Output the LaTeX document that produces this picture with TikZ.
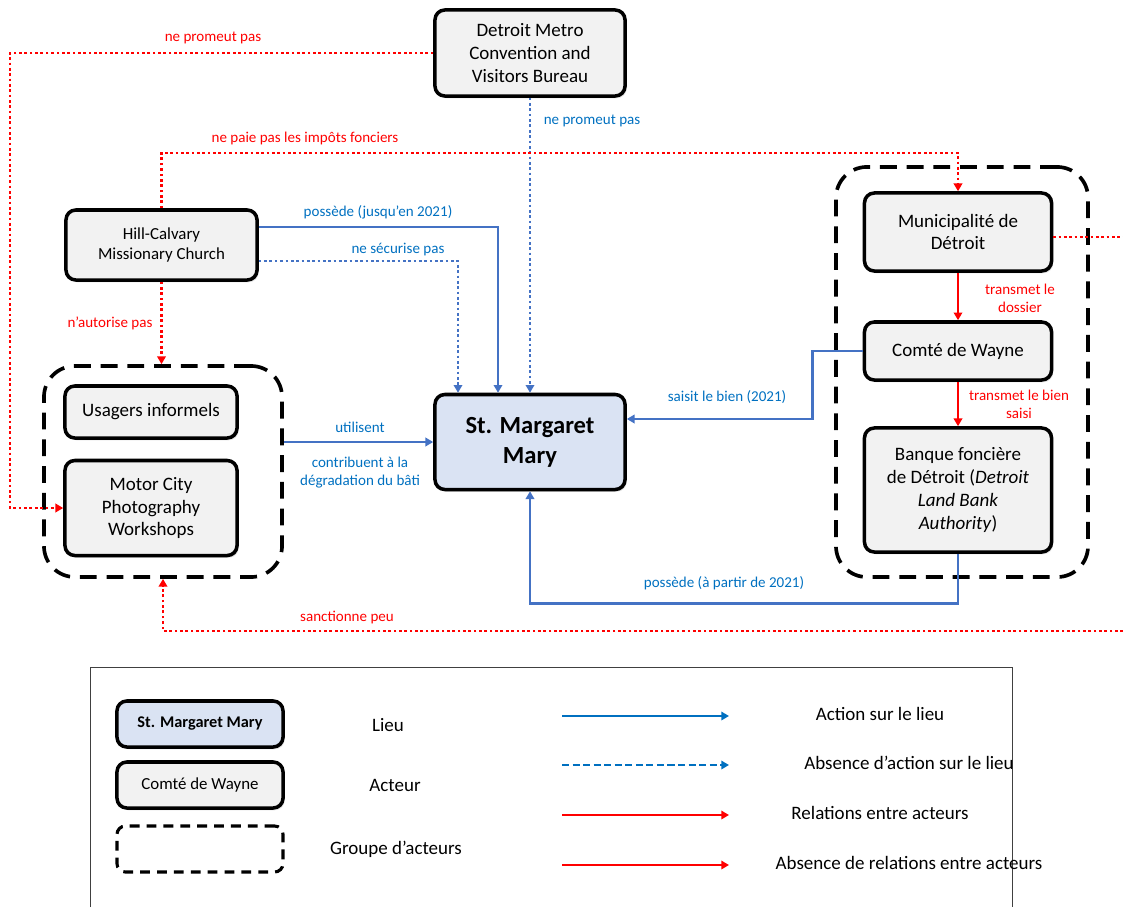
\documentclass[tikz,border=0pt]{standalone}
\usepackage{fontspec}
\setmainfont{Carlito}
\usetikzlibrary{arrows.meta, calc, shadows}
\definecolor{lineB}{RGB}{68,114,196}
\definecolor{textB}{RGB}{0,112,192}
\definecolor{lineR}{RGB}{255,0,0}
\definecolor{boxG}{RGB}{242,242,242}
\definecolor{boxB}{RGB}{218,227,243}
\tikzset{
  actor/.style={draw, line width=2.5pt, rounded corners=7pt, fill=boxG, align=center,
    font=\fontsize{13.5}{16.3}\selectfont,
    drop shadow={shadow xshift=1.2pt, shadow yshift=-1.6pt, opacity=0.22}},
  place/.style={actor, fill=boxB, font=\fontsize{17.5}{21.3}\selectfont\bfseries},
  group/.style={draw, line width=2.6pt, dash pattern=on 12pt off 7pt, rounded corners=22pt},
  tip/.style={-{Triangle[length=5.5pt,width=6pt]}},
  actB/.style={lineB, line width=1.9pt, tip},
  noactB/.style={lineB, line width=1.9pt, dash pattern=on 1.9pt off 1.9pt, tip},
  relR/.style={lineR, line width=1.9pt, tip},
  norelR/.style={lineR, line width=1.9pt, dash pattern=on 1.9pt off 1.9pt, tip},
  lblB/.style={text=textB, font=\fontsize{10.7}{12.8}\selectfont, align=center, inner sep=1pt},
  lblR/.style={lblB, text=lineR},
  legtxt/.style={font=\fontsize{13.5}{15}\selectfont}
}

\begin{document}
\begin{tikzpicture}[x=0.025cm, y=-0.025cm]
\useasboundingbox (0,0) rectangle (1123,907);
% groups of actors
\node[group, minimum width=5.95cm, minimum height=5.275cm] (grpL) at (163,471.5) {};
\node[group, minimum width=6.3cm, minimum height=10.25cm] (grpR) at (962,372) {};
% actors and place
\node[actor, minimum width=4.75cm, minimum height=2.15cm] (detroit) at (530,53) {Detroit Metro\\Convention and\\Visitors Bureau};
\node[actor, minimum width=4.775cm, minimum height=1.75cm, font=\fontsize{12}{14.9}\selectfont] (hill) at (161.5,245) {Hill-Calvary\\Missionary Church};
\node[actor, minimum width=4.3cm, minimum height=1.3cm] (usagers) at (151,412) {Usagers informels};
\node[actor, minimum width=4.3cm, minimum height=2.375cm] (motor) at (151,508) {Motor City\\Photography\\Workshops};
\node[place, minimum width=4.75cm, minimum height=2.375cm] (smm) at (530,442) {St. Margaret\\Mary};
\node[actor, minimum width=4.675cm, minimum height=1.95cm] (muni) at (958,232) {Municipalité de\\Détroit};
\node[actor, minimum width=4.675cm, minimum height=1.45cm] (comte) at (958,351) {Comté de Wayne};
\node[actor, minimum width=4.675cm, minimum height=3.1cm] (banque) at (958,490) {Banque foncière\\de Détroit (\textit{Detroit}\\\textit{Land Bank}\\\textit{Authority})};
% rails and free ends
\coordinate (leftrail) at (10,0);
\coordinate (taxrail) at (0,153);
\coordinate (sancEnd) at (1123,631);
\coordinate (muniEnd) at (1123,237);
% connectors
\draw[norelR] (detroit.west) -- (detroit.west -| leftrail) |- (motor.west);
\draw[noactB] (detroit.south) -- (smm.north);
\draw[norelR] (hill.north) -- (hill.north |- taxrail) -| (muni.north);
\draw[actB] ($(hill.east)+(0,-18)$) -| ($(smm.north)+(-32,0)$);
\draw[noactB] ($(hill.east)+(0,16)$) -| ($(smm.north)+(-72,0)$);
\draw[norelR] (hill.south) -- (hill.south |- grpL.north);
\draw[actB] (grpL.east |- smm.west) -- (smm.west);
\draw[actB] (comte.west) -- ++(-50,0) |- ($(smm.east)+(0,-23)$);
\draw[relR] (muni.south) -- (comte.north);
\draw[relR] (comte.south) -- (banque.north);
\draw[actB] (banque.south) -- ++(0,50) -| (smm.south);
\draw[norelR] (sancEnd) -| (grpL.south);
\draw[norelR, -] ($(muni.east)+(0,5)$) -- (muniEnd);
% labels
\node[lblR] (l1) at (213,38) {ne promeut pas};
\node[lblB] (l2) at (592,121) {ne promeut pas};
\node[lblR] (l3) at (305,138) {ne paie pas les impôts fonciers};
\node[lblB] (l4) at (378,212) {possède (jusqu’en 2021)};
\node[lblB] (l5) at (398,250) {ne sécurise pas};
\node[lblR] (l6) at (110,323) {n’autorise pas};
\node[lblB] (l7) at (360,427) {utilisent};
\node[lblB] (l8) at (360,473) {contribuent à la\\dégradation du bâti};
\node[lblB] (l9) at (727,397) {saisit le bien (2021)};
\node[lblR] (l10) at (1020,298) {transmet le\\dossier};
\node[lblR] (l11) at (1019,404) {transmet le bien\\saisi};
\node[lblB] (l12) at (724,583) {possède (à partir de 2021)};
\node[lblR] (l13) at (347,618) {sanctionne peu};
% legend
\draw[line width=0.6pt, black!75] (90,907) |- (1012,667) -- (1012,907);
\node[place, minimum width=4.15cm, minimum height=1.15cm, font=\fontsize{11.6}{13}\selectfont\bfseries] (lgPlace) at (200,724) {St. Margaret Mary};
\node[actor, minimum width=4.15cm, minimum height=1.15cm, font=\fontsize{12}{13}\selectfont] (lgActor) at (200,785) {Comté de Wayne};
\node[group, line width=2.2pt, dash pattern=on 7pt off 5pt, rounded corners=6pt, minimum width=4.15cm, minimum height=1.15cm] (lgGroup) at (200,849) {};
\node[legtxt] (lgT1) at (388,725) {Lieu};
\node[legtxt] (lgT2) at (395,785) {Acteur};
\node[legtxt] (lgT3) at (396,849) {Groupe d’acteurs};
\foreach \y/\tx/\txt in {716/880/Action sur le lieu, 765/909/Absence d’action sur le lieu,
    815/880/Relations entre acteurs, 865/909/Absence de relations entre acteurs} {
  \coordinate (lgS\y) at (562,\y);
  \coordinate (lgE\y) at (729,\y);
  \node[legtxt] (lgL\y) at (\tx,\y-2) {\txt};
}
\draw[actB, textB, line width=1.4pt] (lgS716) -- (lgE716);
\draw[actB, textB, line width=1.4pt, dash pattern=on 5pt off 2.5pt] (lgS765) -- (lgE765);
\draw[relR, line width=1.4pt] (lgS815) -- (lgE815);
\draw[relR, line width=1.4pt] (lgS865) -- (lgE865);
\end{tikzpicture}
\end{document}
